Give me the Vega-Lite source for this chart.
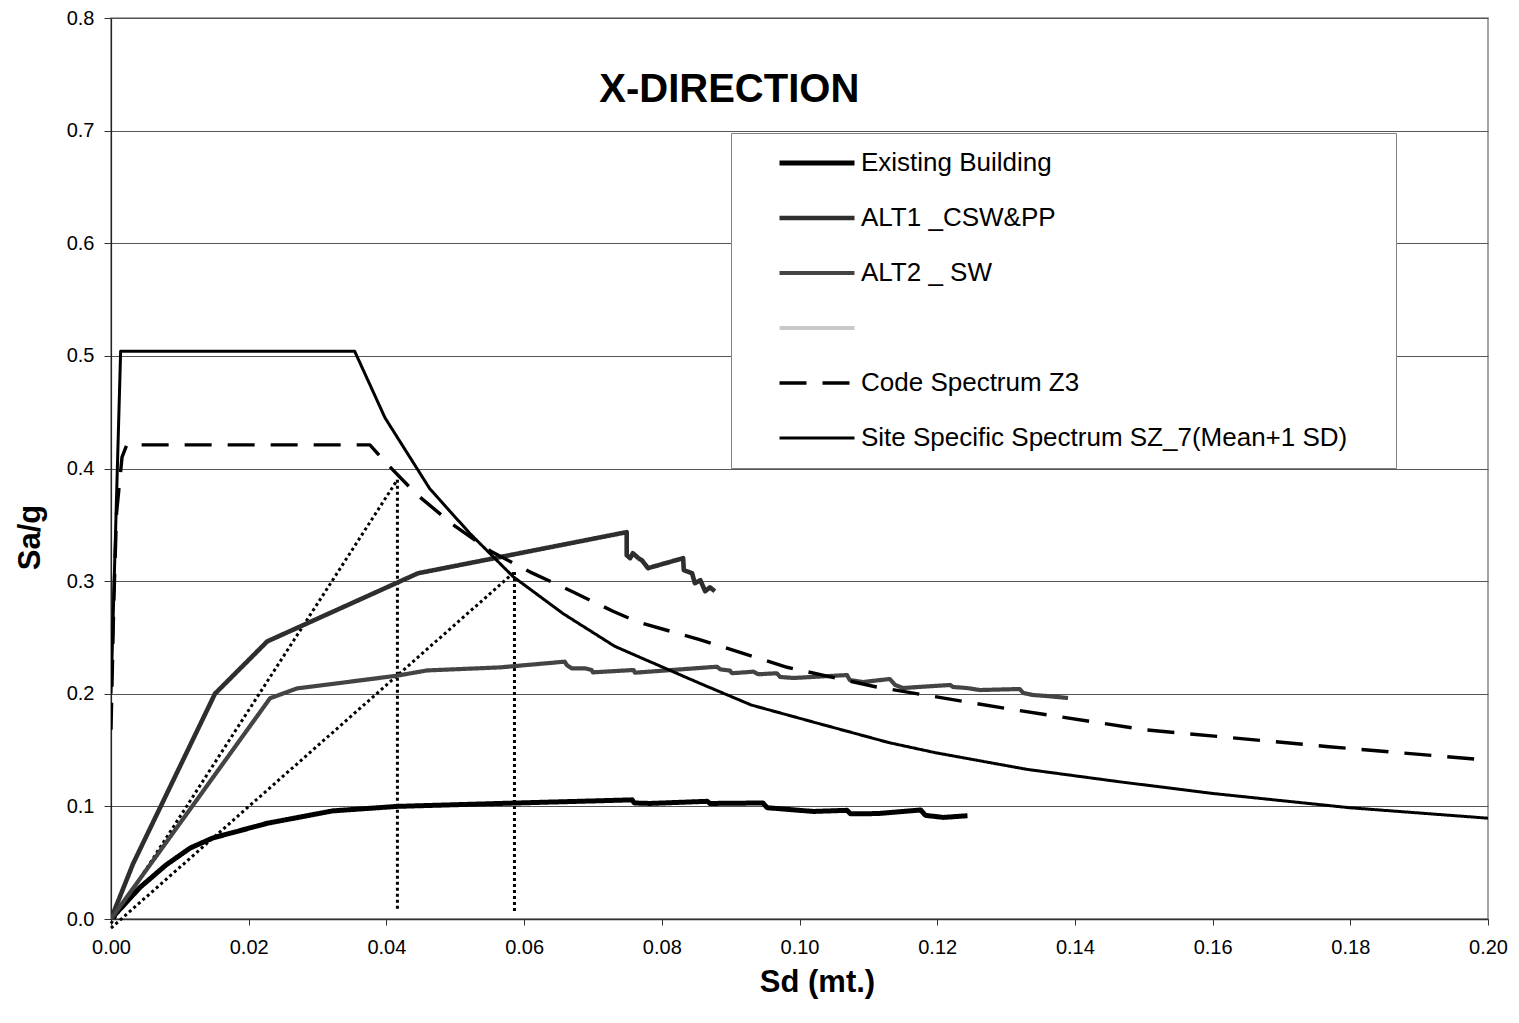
{
  "$schema": "https://vega.github.io/schema/vega-lite/v6.json",
  "width": 1377,
  "height": 901,
  "autosize": {"type": "none"},
  "padding": {"left": 111, "top": 18, "right": 31, "bottom": 104},
  "background": "white",
  "config": {
    "font": "Liberation Sans",
    "view": {"stroke": "#888888", "strokeWidth": 1.5},
    "axis": {"labelFont": "Liberation Sans", "titleFont": "Liberation Sans", "labelColor": "#000", "titleColor": "#000"}
  },
  "datasets": {
    "series": [
      {"s": "Existing Building", "i": 0, "x": 0.0, "y": 0.0},
      {"s": "Existing Building", "i": 1, "x": 0.0042, "y": 0.028},
      {"s": "Existing Building", "i": 2, "x": 0.0080, "y": 0.048},
      {"s": "Existing Building", "i": 3, "x": 0.0115, "y": 0.063},
      {"s": "Existing Building", "i": 4, "x": 0.0148, "y": 0.072},
      {"s": "Existing Building", "i": 5, "x": 0.0227, "y": 0.085},
      {"s": "Existing Building", "i": 6, "x": 0.0322, "y": 0.096},
      {"s": "Existing Building", "i": 7, "x": 0.0416, "y": 0.100},
      {"s": "Existing Building", "i": 8, "x": 0.0565, "y": 0.1026},
      {"s": "Existing Building", "i": 9, "x": 0.0710, "y": 0.105},
      {"s": "Existing Building", "i": 10, "x": 0.0757, "y": 0.1058},
      {"s": "Existing Building", "i": 11, "x": 0.0760, "y": 0.1030},
      {"s": "Existing Building", "i": 12, "x": 0.0783, "y": 0.1026},
      {"s": "Existing Building", "i": 13, "x": 0.0866, "y": 0.1045},
      {"s": "Existing Building", "i": 14, "x": 0.0870, "y": 0.1026},
      {"s": "Existing Building", "i": 15, "x": 0.0904, "y": 0.1028},
      {"s": "Existing Building", "i": 16, "x": 0.0947, "y": 0.1030},
      {"s": "Existing Building", "i": 17, "x": 0.0953, "y": 0.0988},
      {"s": "Existing Building", "i": 18, "x": 0.1020, "y": 0.0955},
      {"s": "Existing Building", "i": 19, "x": 0.1069, "y": 0.0965},
      {"s": "Existing Building", "i": 20, "x": 0.1074, "y": 0.0934},
      {"s": "Existing Building", "i": 21, "x": 0.1113, "y": 0.0936},
      {"s": "Existing Building", "i": 22, "x": 0.1176, "y": 0.0968},
      {"s": "Existing Building", "i": 23, "x": 0.1183, "y": 0.0920},
      {"s": "Existing Building", "i": 24, "x": 0.1209, "y": 0.0902},
      {"s": "Existing Building", "i": 25, "x": 0.1244, "y": 0.0917},

      {"s": "ALT1 _CSW&PP", "i": 0, "x": 0.0, "y": 0.0},
      {"s": "ALT1 _CSW&PP", "i": 1, "x": 0.0032, "y": 0.049},
      {"s": "ALT1 _CSW&PP", "i": 2, "x": 0.0151, "y": 0.200},
      {"s": "ALT1 _CSW&PP", "i": 3, "x": 0.0227, "y": 0.2465},
      {"s": "ALT1 _CSW&PP", "i": 4, "x": 0.0446, "y": 0.307},
      {"s": "ALT1 _CSW&PP", "i": 5, "x": 0.0749, "y": 0.3435},
      {"s": "ALT1 _CSW&PP", "i": 6, "x": 0.0749, "y": 0.323},
      {"s": "ALT1 _CSW&PP", "i": 7, "x": 0.0754, "y": 0.3204},
      {"s": "ALT1 _CSW&PP", "i": 8, "x": 0.0758, "y": 0.3248},
      {"s": "ALT1 _CSW&PP", "i": 9, "x": 0.0766, "y": 0.3204},
      {"s": "ALT1 _CSW&PP", "i": 10, "x": 0.0771, "y": 0.3186},
      {"s": "ALT1 _CSW&PP", "i": 11, "x": 0.0780, "y": 0.3115},
      {"s": "ALT1 _CSW&PP", "i": 12, "x": 0.0831, "y": 0.3204},
      {"s": "ALT1 _CSW&PP", "i": 13, "x": 0.0832, "y": 0.3097},
      {"s": "ALT1 _CSW&PP", "i": 14, "x": 0.0844, "y": 0.3070},
      {"s": "ALT1 _CSW&PP", "i": 15, "x": 0.0848, "y": 0.2981},
      {"s": "ALT1 _CSW&PP", "i": 16, "x": 0.0856, "y": 0.3008},
      {"s": "ALT1 _CSW&PP", "i": 17, "x": 0.0863, "y": 0.2910},
      {"s": "ALT1 _CSW&PP", "i": 18, "x": 0.0870, "y": 0.2945},
      {"s": "ALT1 _CSW&PP", "i": 19, "x": 0.0877, "y": 0.2910},

      {"s": "ALT2 _ SW", "i": 0, "x": 0.0, "y": 0.0},
      {"s": "ALT2 _ SW", "i": 1, "x": 0.0231, "y": 0.196},
      {"s": "ALT2 _ SW", "i": 2, "x": 0.0270, "y": 0.2047},
      {"s": "ALT2 _ SW", "i": 3, "x": 0.0415, "y": 0.216},
      {"s": "ALT2 _ SW", "i": 4, "x": 0.0459, "y": 0.2207},
      {"s": "ALT2 _ SW", "i": 5, "x": 0.0565, "y": 0.2234},
      {"s": "ALT2 _ SW", "i": 6, "x": 0.0659, "y": 0.2285},
      {"s": "ALT2 _ SW", "i": 7, "x": 0.0662, "y": 0.2255},
      {"s": "ALT2 _ SW", "i": 8, "x": 0.0669, "y": 0.2226},
      {"s": "ALT2 _ SW", "i": 9, "x": 0.0688, "y": 0.2226},
      {"s": "ALT2 _ SW", "i": 10, "x": 0.0698, "y": 0.2211},
      {"s": "ALT2 _ SW", "i": 11, "x": 0.0700, "y": 0.2190},
      {"s": "ALT2 _ SW", "i": 12, "x": 0.0759, "y": 0.2211},
      {"s": "ALT2 _ SW", "i": 13, "x": 0.0761, "y": 0.2187},
      {"s": "ALT2 _ SW", "i": 14, "x": 0.0880, "y": 0.2240},
      {"s": "ALT2 _ SW", "i": 15, "x": 0.0885, "y": 0.2217},
      {"s": "ALT2 _ SW", "i": 16, "x": 0.0899, "y": 0.2205},
      {"s": "ALT2 _ SW", "i": 17, "x": 0.0902, "y": 0.2182},
      {"s": "ALT2 _ SW", "i": 18, "x": 0.0933, "y": 0.2196},
      {"s": "ALT2 _ SW", "i": 19, "x": 0.0940, "y": 0.2173},
      {"s": "ALT2 _ SW", "i": 20, "x": 0.0967, "y": 0.2182},
      {"s": "ALT2 _ SW", "i": 21, "x": 0.0972, "y": 0.2149},
      {"s": "ALT2 _ SW", "i": 22, "x": 0.0991, "y": 0.2140},
      {"s": "ALT2 _ SW", "i": 23, "x": 0.1069, "y": 0.2166},
      {"s": "ALT2 _ SW", "i": 24, "x": 0.1073, "y": 0.2122},
      {"s": "ALT2 _ SW", "i": 25, "x": 0.1092, "y": 0.2104},
      {"s": "ALT2 _ SW", "i": 26, "x": 0.1131, "y": 0.2131},
      {"s": "ALT2 _ SW", "i": 27, "x": 0.1139, "y": 0.2078},
      {"s": "ALT2 _ SW", "i": 28, "x": 0.1150, "y": 0.2051},
      {"s": "ALT2 _ SW", "i": 29, "x": 0.1219, "y": 0.2078},
      {"s": "ALT2 _ SW", "i": 30, "x": 0.1223, "y": 0.2060},
      {"s": "ALT2 _ SW", "i": 31, "x": 0.1243, "y": 0.2051},
      {"s": "ALT2 _ SW", "i": 32, "x": 0.1262, "y": 0.2033},
      {"s": "ALT2 _ SW", "i": 33, "x": 0.1320, "y": 0.2042},
      {"s": "ALT2 _ SW", "i": 34, "x": 0.1325, "y": 0.2007},
      {"s": "ALT2 _ SW", "i": 35, "x": 0.1339, "y": 0.1989},
      {"s": "ALT2 _ SW", "i": 36, "x": 0.1359, "y": 0.1980},
      {"s": "ALT2 _ SW", "i": 37, "x": 0.1390, "y": 0.1962},

      {"s": "Code Spectrum Z3", "i": 0, "x": 0.0, "y": 0.168},
      {"s": "Code Spectrum Z3", "i": 1, "x": 0.0004, "y": 0.28},
      {"s": "Code Spectrum Z3", "i": 2, "x": 0.0008, "y": 0.36},
      {"s": "Code Spectrum Z3", "i": 3, "x": 0.0016, "y": 0.41},
      {"s": "Code Spectrum Z3", "i": 4, "x": 0.0023, "y": 0.421},
      {"s": "Code Spectrum Z3", "i": 5, "x": 0.0376, "y": 0.421},
      {"s": "Code Spectrum Z3", "i": 6, "x": 0.0398, "y": 0.406},
      {"s": "Code Spectrum Z3", "i": 7, "x": 0.0444, "y": 0.377},
      {"s": "Code Spectrum Z3", "i": 8, "x": 0.0497, "y": 0.350},
      {"s": "Code Spectrum Z3", "i": 9, "x": 0.0553, "y": 0.326},
      {"s": "Code Spectrum Z3", "i": 10, "x": 0.0609, "y": 0.308},
      {"s": "Code Spectrum Z3", "i": 11, "x": 0.0669, "y": 0.291},
      {"s": "Code Spectrum Z3", "i": 12, "x": 0.0730, "y": 0.273},
      {"s": "Code Spectrum Z3", "i": 13, "x": 0.0764, "y": 0.264},
      {"s": "Code Spectrum Z3", "i": 14, "x": 0.0855, "y": 0.248},
      {"s": "Code Spectrum Z3", "i": 15, "x": 0.0982, "y": 0.2235},
      {"s": "Code Spectrum Z3", "i": 16, "x": 0.1112, "y": 0.206},
      {"s": "Code Spectrum Z3", "i": 17, "x": 0.1309, "y": 0.186},
      {"s": "Code Spectrum Z3", "i": 18, "x": 0.1502, "y": 0.168},
      {"s": "Code Spectrum Z3", "i": 19, "x": 0.1769, "y": 0.153},
      {"s": "Code Spectrum Z3", "i": 20, "x": 0.2, "y": 0.141},

      {"s": "Site Specific Spectrum SZ_7(Mean+1 SD)", "i": 0, "x": 0.0, "y": 0.2},
      {"s": "Site Specific Spectrum SZ_7(Mean+1 SD)", "i": 1, "x": 0.0014, "y": 0.504},
      {"s": "Site Specific Spectrum SZ_7(Mean+1 SD)", "i": 2, "x": 0.0354, "y": 0.504},
      {"s": "Site Specific Spectrum SZ_7(Mean+1 SD)", "i": 3, "x": 0.0398, "y": 0.445},
      {"s": "Site Specific Spectrum SZ_7(Mean+1 SD)", "i": 4, "x": 0.0463, "y": 0.382},
      {"s": "Site Specific Spectrum SZ_7(Mean+1 SD)", "i": 5, "x": 0.0521, "y": 0.3425},
      {"s": "Site Specific Spectrum SZ_7(Mean+1 SD)", "i": 6, "x": 0.0584, "y": 0.304},
      {"s": "Site Specific Spectrum SZ_7(Mean+1 SD)", "i": 7, "x": 0.0657, "y": 0.271},
      {"s": "Site Specific Spectrum SZ_7(Mean+1 SD)", "i": 8, "x": 0.0732, "y": 0.242},
      {"s": "Site Specific Spectrum SZ_7(Mean+1 SD)", "i": 9, "x": 0.0855, "y": 0.2093},
      {"s": "Site Specific Spectrum SZ_7(Mean+1 SD)", "i": 10, "x": 0.0930, "y": 0.190},
      {"s": "Site Specific Spectrum SZ_7(Mean+1 SD)", "i": 11, "x": 0.1027, "y": 0.1737},
      {"s": "Site Specific Spectrum SZ_7(Mean+1 SD)", "i": 12, "x": 0.1130, "y": 0.1566},
      {"s": "Site Specific Spectrum SZ_7(Mean+1 SD)", "i": 13, "x": 0.1197, "y": 0.1477},
      {"s": "Site Specific Spectrum SZ_7(Mean+1 SD)", "i": 14, "x": 0.1330, "y": 0.1329},
      {"s": "Site Specific Spectrum SZ_7(Mean+1 SD)", "i": 15, "x": 0.1464, "y": 0.1219},
      {"s": "Site Specific Spectrum SZ_7(Mean+1 SD)", "i": 16, "x": 0.1598, "y": 0.1116},
      {"s": "Site Specific Spectrum SZ_7(Mean+1 SD)", "i": 17, "x": 0.1799, "y": 0.0988},
      {"s": "Site Specific Spectrum SZ_7(Mean+1 SD)", "i": 18, "x": 0.2, "y": 0.0895}
    ],
    "guides": [
      {"g": "d1", "i": 0, "x": 0.0, "y": -0.004},
      {"g": "d1", "i": 1, "x": 0.0416, "y": 0.390},
      {"g": "v1", "i": 0, "x": 0.0416, "y": 0.390},
      {"g": "v1", "i": 1, "x": 0.0416, "y": 0.008},
      {"g": "d2", "i": 0, "x": 0.0, "y": -0.008},
      {"g": "d2", "i": 1, "x": 0.0586, "y": 0.308},
      {"g": "v2", "i": 0, "x": 0.0586, "y": 0.308},
      {"g": "v2", "i": 1, "x": 0.0586, "y": 0.006}
    ],
    "titles": [
      {"t": "X-DIRECTION", "x": 0.0898, "y": 0.736}
    ]
  },
  "encoding": {
    "x": {
      "field": "x", "type": "quantitative",
      "scale": {"domain": [0, 0.2], "nice": false, "zero": false},
      "axis": {
        "title": "Sd (mt.)", "titleFontSize": 31, "titleFontWeight": "bold",
        "titleX": 706, "titleY": 63, "titleBaseline": "middle", "titleAlign": "center",
        "values": [0, 0.02, 0.04, 0.06, 0.08, 0.1, 0.12, 0.14, 0.16, 0.18, 0.2],
        "format": ".2f", "labelFontSize": 20, "labelPadding": 12, "labelFlush": false,
        "grid": false, "tickSize": 6, "tickColor": "#333", "domainColor": "#333", "domainWidth": 1.5
      }
    },
    "y": {
      "field": "y", "type": "quantitative",
      "scale": {"domain": [0, 0.8], "nice": false, "zero": false},
      "axis": {
        "title": "Sa/g", "titleFontSize": 31, "titleFontWeight": "bold",
        "titleX": -81, "titleY": 519, "titleBaseline": "middle", "titleAlign": "center", "titleAngle": 270,
        "values": [0, 0.1, 0.2, 0.3, 0.4, 0.5, 0.6, 0.7, 0.8],
        "format": ".1f", "labelFontSize": 20, "labelPadding": 10, "labelFlush": false,
        "grid": true, "gridColor": "#555", "gridWidth": 1,
        "tickSize": 7, "tickColor": "#333", "domainColor": "#222", "domainWidth": 1.2
      }
    }
  },
  "layer": [
    {
      "data": {"name": "guides"},
      "mark": {"type": "line", "color": "#000", "strokeWidth": 3, "strokeDash": [3, 3], "clip": false},
      "encoding": {
        "detail": {"field": "g"},
        "order": {"field": "i"}
      }
    },
    {
      "data": {"name": "series"},
      "mark": {"type": "line", "clip": true, "strokeJoin": "round", "strokeCap": "butt"},
      "encoding": {
        "order": {"field": "i"},
        "color": {
          "field": "s", "type": "nominal",
          "scale": {
            "domain": ["Existing Building", "ALT1 _CSW&PP", "ALT2 _ SW", " ", "Code Spectrum Z3", "Site Specific Spectrum SZ_7(Mean+1 SD)"],
            "range": ["#000000", "#2e2e2e", "#444444", "#c8c8c8", "#000000", "#000000"]
          },
          "legend": {
            "title": " ", "titleOrient": "right", "titlePadding": 34, "titleFontSize": 20,
            "orient": "none", "legendX": 620, "legendY": 115,
            "fillColor": "white", "strokeColor": "#808080", "padding": 15,
            "symbolType": "stroke", "symbolSize": 5625, "symbolOffset": 31,
            "labelFontSize": 26, "labelFont": "Liberation Sans", "labelColor": "#000", "labelOffset": 4, "labelLimit": 700,
            "clipHeight": 30, "rowPadding": 25
          }
        },
        "strokeDash": {
          "field": "s", "type": "nominal",
          "scale": {
            "domain": ["Existing Building", "ALT1 _CSW&PP", "ALT2 _ SW", " ", "Code Spectrum Z3", "Site Specific Spectrum SZ_7(Mean+1 SD)"],
            "range": [[1, 0], [1, 0], [1, 0], [1, 0], [27, 16], [1, 0]]
          }
        },
        "strokeWidth": {
          "field": "s", "type": "nominal",
          "scale": {
            "domain": ["Existing Building", "ALT1 _CSW&PP", "ALT2 _ SW", " ", "Code Spectrum Z3", "Site Specific Spectrum SZ_7(Mean+1 SD)"],
            "range": [5, 3, 3, 4, 4, 3.4]
          }
        }
      }
    },
    {
      "data": {"name": "titles"},
      "mark": {"type": "text", "font": "Liberation Sans", "fontSize": 40, "fontWeight": "bold", "color": "#000", "align": "center", "baseline": "middle"},
      "encoding": {
        "text": {"field": "t"}
      }
    }
  ]
}
